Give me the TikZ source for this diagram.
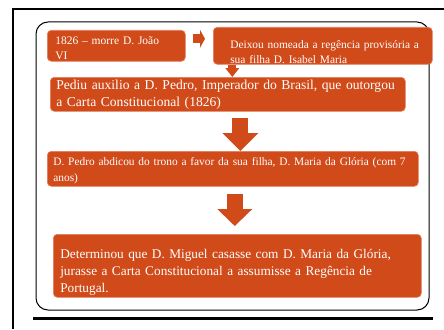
\documentclass[tikz,border=0pt]{standalone}
\usepackage{fontspec}
\setmainfont{Liberation Serif}
\usepackage{xcolor}
\usepackage{tikz}
\usetikzlibrary{calc,arrows.meta,positioning}
\definecolor{hsorange}{RGB}{208,74,26}
\definecolor{hsedge}{RGB}{226,128,96}

\begin{document}
\begin{tikzpicture}[x=1pt,y=-1pt,
    hsbox/.style={draw=hsedge,fill=hsorange,rounded corners=4pt,text=white,align=left,anchor=north west,
       inner ysep=0pt,text height=0pt,line width=0.6pt},
    hsarrow/.style={hsorange,line cap=butt}]
    \useasboundingbox (0,0) rectangle (444,329);
    \draw[line width=2pt] (13,329) -- (13,9) -- (444,9);
    \draw[line width=1pt,rounded corners=12pt] (36,22) rectangle (429,310);
    \draw[line width=3pt] (33,318) -- (433,318);
    \node[hsbox,minimum width=138pt,minimum height=31pt,inner xsep=8pt,text width=122pt,text depth=3pt,
       font=\fontsize{11.5}{15}\selectfont] (morte) at (47,30)
       {1826 -- morre D. João\\VI};
    \node[hsbox,minimum width=219pt,minimum height=37pt,inner xsep=17pt,text width=185pt,text height=5pt,text depth=0pt,
       font=\fontsize{11.4}{15.5}\selectfont] (regencia) at (213,27)
       {\mbox{Deixou nomeada a regência provisória a}\\sua filha D. Isabel Maria};
    \node[hsbox,minimum width=355pt,minimum height=34pt,inner xsep=6pt,text width=343pt,text depth=10pt,
       font=\fontsize{13.6}{17}\selectfont] (auxilio) at (50,77)
       {Pediu auxilio a D. Pedro, Imperador do Brasil, que outorgou\\a Carta Constitucional (1826)};
    \node[hsbox,minimum width=371pt,minimum height=35pt,inner xsep=6pt,text width=359pt,text depth=7pt,
       font=\fontsize{11.4}{16}\selectfont] (abdicou) at (47,151)
       {D. Pedro abdicou do trono a favor da sua filha, D. Maria da Glória (com 7\\anos)};
    \node[hsbox,minimum width=368pt,minimum height=63pt,inner xsep=7pt,text width=354pt,text depth=15pt,
       font=\fontsize{13.3}{17}\selectfont] (miguel) at (53,234)
       {Determinou que D. Miguel casasse com D. Maria da Glória,\\jurasse a Carta Constitucional a assumisse a Regência de\\Portugal.};
    \draw[hsarrow,line width=9pt,-{Triangle[length=5pt,width=18pt,line width=0pt]},shorten <=7pt,shorten >=8pt]
       ([yshift=7pt]morte.east) -- ([yshift=7pt]regencia.west);
    \draw[hsarrow,line width=8pt,-{Triangle[length=9pt,width=14pt,line width=0pt]}]
       ([xshift=-90.5pt]regencia.south) -- ([xshift=4.5pt]auxilio.north);
    \draw[hsarrow,line width=16pt,-{Triangle[length=18pt,width=36pt,line width=0pt]},shorten <=6pt]
       ([xshift=12.5pt]auxilio.south) -- ([xshift=7.5pt]abdicou.north);
    \draw[hsarrow,line width=16pt,-{Triangle[length=17pt,width=35pt,line width=0pt]},shorten <=7pt,shorten >=8pt]
       ([xshift=2pt]abdicou.south) -- ([xshift=-2.5pt]miguel.north);
\end{tikzpicture}
\end{document}
